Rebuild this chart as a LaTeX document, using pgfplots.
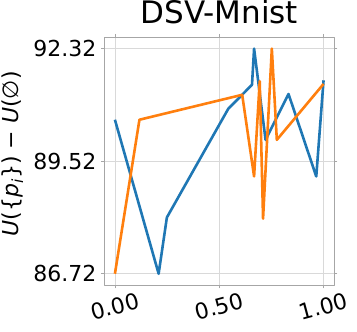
\documentclass[border=0pt]{standalone}
\usepackage{fontspec}
\setmainfont{DejaVu Sans}
\usepackage{pgfplots}
\pgfplotsset{compat=1.18}
\definecolor{mblue}{HTML}{1F77B4}
\definecolor{morange}{HTML}{FF7F0E}
\begin{document}
\begin{tikzpicture}
\begin{axis}[
  scale only axis,
  width=229.5pt, height=247.7pt,
  at={(0,0)}, anchor=south west,
  xmin=-0.05, xmax=1.05,
  ymin=86.44, ymax=92.60,
  xtick={0,0.5,1}, xticklabels={0.00,0.50,1.00},
  ytick={86.72,89.52,92.32}, yticklabels={86.72,89.52,92.32},
  /pgf/number format/assume math mode=true,
  tick label style={font=\fontsize{22}{24}\selectfont},
  xticklabel style={yshift=-18pt, rotate=15, anchor=center},
  yticklabel style={xshift=-1pt},
  tick align=outside,
  major tick length=3.5pt,
  tick style={gray!70, line width=0.8pt},
  axis line style={gray!70, line width=0.8pt},
  grid=major,
  grid style={gray!30, line width=0.8pt},
  title={DSV-Mnist},
  title style={at={(0.5,1)}, anchor=base, yshift=8pt, font=\fontsize{31}{34}\selectfont},
  ylabel={\textit{U}(\{\textit{p}\textsubscript{\textit{i}}\}) − \textit{U}(\textit{∅})},
  every axis y label/.style={at={(rel axis cs:0,0.53)}, xshift=-92pt, rotate=90, anchor=center, font=\fontsize{22}{24}\selectfont},
  line join=round,
]
\addplot[mblue, line width=2.6pt] coordinates {
(0,90.55) (0.2095,86.72) (0.249,88.12) (0.543,90.82) (0.657,91.42) (0.667,92.32) (0.722,90.05) (0.832,91.19) (0.965,89.14) (1.0,91.53)
};
\addplot[morange, line width=2.6pt] coordinates {
(0,86.72) (0.1175,90.55) (0.61,91.17) (0.667,89.14) (0.694,91.51) (0.71,88.09) (0.752,92.32) (0.776,90.05) (1.0,91.44)
};
\end{axis}
\pgfresetboundingbox
\path[use as bounding box] (-104.5pt,-47pt) rectangle (252.5pt,285pt);
\end{tikzpicture}
\end{document}
